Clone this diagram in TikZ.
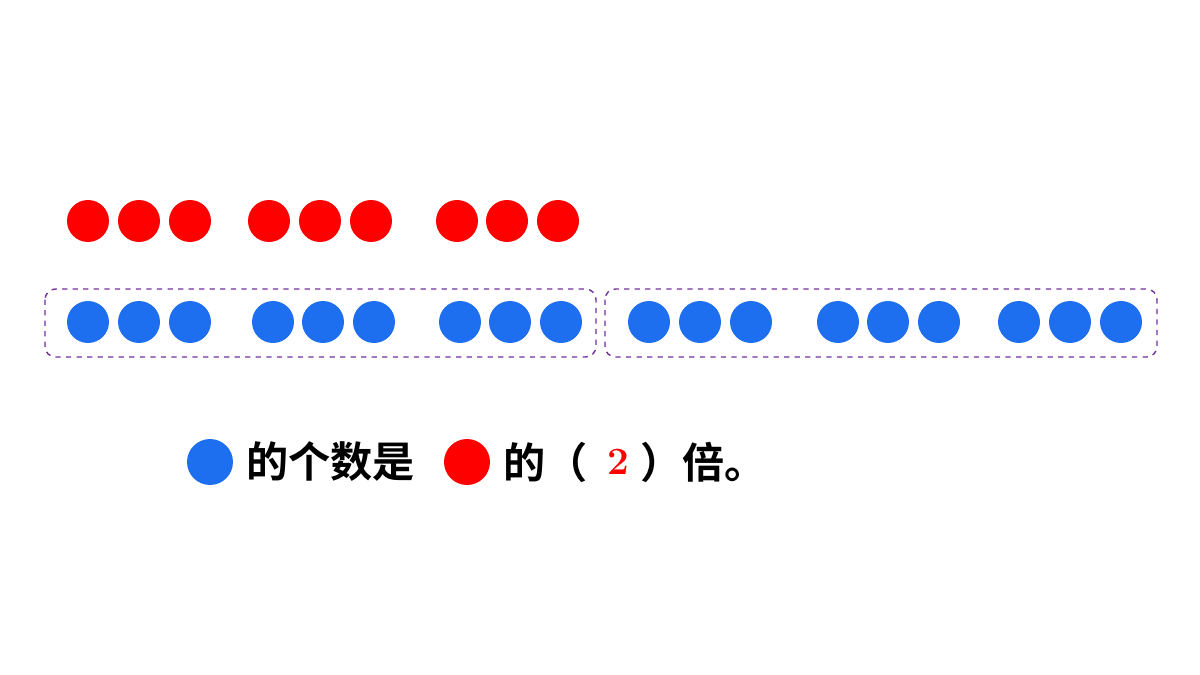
\documentclass[tikz,border=0pt]{standalone}
\usepackage{fontspec}
\newfontfamily\cjk{Noto Sans CJK SC Bold}
\usetikzlibrary{positioning}
\definecolor{dotred}{RGB}{255,0,0}
\definecolor{dotblue}{RGB}{30,110,240}
\definecolor{boxpurple}{RGB}{112,48,160}
\tikzset{
  reddot/.style={circle,fill=dotred,minimum size=0.84cm,inner sep=0pt},
  bluedot/.style={circle,fill=dotblue,minimum size=0.84cm,inner sep=0pt},
  groupbox/.style={draw=boxpurple,dashed,rounded corners=6pt,line width=0.8pt},
  words/.style={font=\cjk\fontsize{24}{28}\selectfont,inner sep=0pt}
}
\begin{document}
\begin{tikzpicture}[x=0.02cm,y=-0.02cm]
  \useasboundingbox (0,0) rectangle (1200,675);

  % red row
  \foreach \x [count=\i] in {88,139,190,269,320,371,457,507,558}
    \node[reddot] (r\i) at (\x,221) {};

  % blue row
  \foreach \x [count=\i] in {88,139,190,273,323,374,460,510,561,649,700,751,838,888,939,1019,1070,1121}
    \node[bluedot] (b\i) at (\x,322) {};

  \draw[groupbox] (45,289) rectangle (596,357);
  \draw[groupbox] (605,289) rectangle (1157,357);

  % sentence
  \node[bluedot,minimum size=0.92cm] (qblue) at (210,462) {};
  \node[words,anchor=west] (t1) at (246,462) {的个数是};
  \node[reddot,minimum size=0.92cm] (qred) at (467,462) {};
  \node[words,anchor=west] (t2) at (503,462) {的（};
  \node[font=\bfseries\fontsize{22}{24}\selectfont,text=dotred] (ans) at (618,462) {2};
  \node[words,anchor=west] (t3) at (640,462) {）倍。};
\end{tikzpicture}
\end{document}
